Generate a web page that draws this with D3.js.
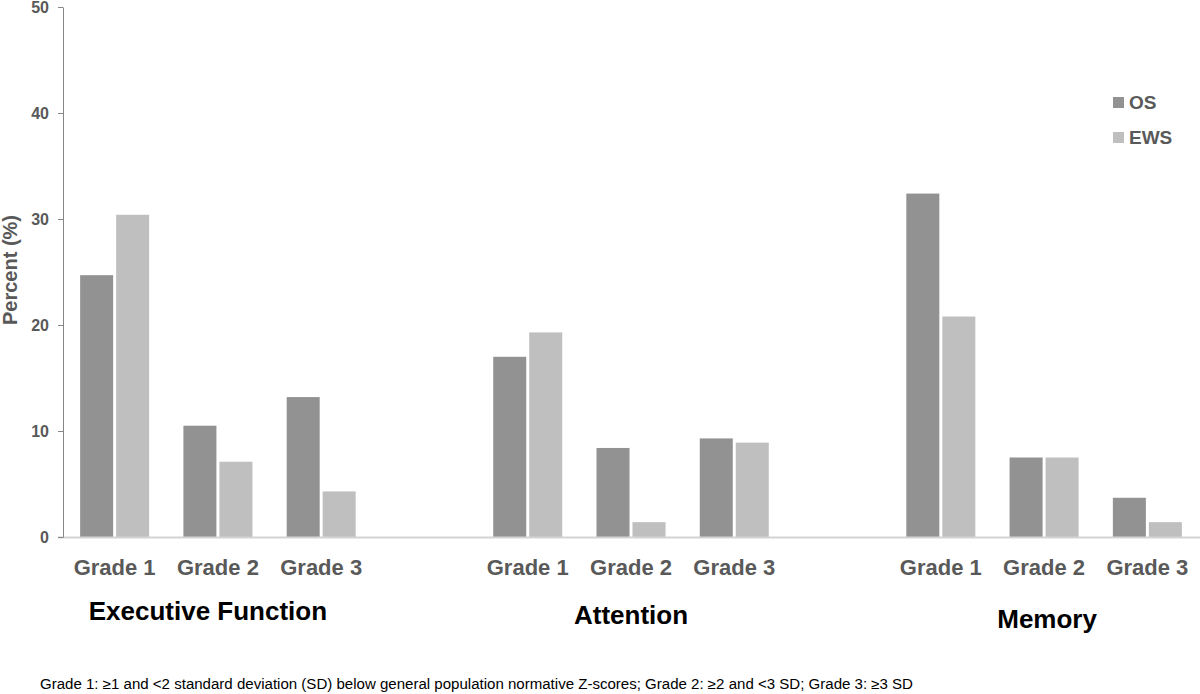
<!DOCTYPE html>
<html>
<head>
<meta charset="utf-8">
<script src="https://cdn.jsdelivr.net/npm/d3@7"></script>
<style>
  body { margin: 0; background: #fff; }
  svg { display: block; font-family: "Liberation Sans", Arial, sans-serif; }
</style>
</head>
<body>
<script>
// values
const domains = ["Executive Function", "Attention", "Memory"];
const grades = ["Grade 1", "Grade 2", "Grade 3"];
const seriesNames = ["OS", "EWS"];
const osValues  = [24.7, 10.5, 13.2, 17.0, 8.4, 9.3, 32.4, 7.5, 3.7];
const ewsValues = [30.4, 7.1, 4.3, 19.3, 1.4, 8.9, 20.8, 7.5, 1.4];
const yTicks = [0, 10, 20, 30, 40, 50];
const footnote = "Grade 1: \u22651 and <2 standard deviation (SD) below general population normative Z-scores; Grade 2: \u22652 and <3 SD; Grade 3: \u22653 SD";

const width = 1200, height = 694;
const plot = { left: 63, right: 1199, top: 7, bottom: 537 };
const colors = { OS: "#929292", EWS: "#bfbfbf" };
const textGray = "#595959";
// domain titles sit at slightly different heights in the original
const titleLayout = [{ dx: -10, y: 620 }, { dx: 0, y: 624 }, { dx: 3, y: 628 }];

// three grade slots per domain, one empty slot between domains
const slots = [];
domains.forEach((dom, di) => {
  grades.forEach(g => slots.push(dom + "|" + g));
  if (di < domains.length - 1) slots.push("gap" + di);
});

const rows = osValues.map((v, i) => ({
  slot: domains[Math.floor(i / 3)] + "|" + grades[i % 3],
  grade: grades[i % 3],
  OS: v,
  EWS: ewsValues[i]
}));

const svg = d3.select("body").append("svg")
    .attr("width", width)
    .attr("height", height);

const x = d3.scaleBand()
    .domain(slots)
    .range([plot.left, plot.right]);

const xs = d3.scaleBand()
    .domain(seriesNames)
    .range([0, x.bandwidth()])
    .paddingInner(0.083)
    .paddingOuter(0.476);

const y = d3.scaleLinear()
    .domain([0, 50])
    .range([plot.bottom, plot.top]);

// bars
let groups = svg.append("g").attr("id", "bars")
  .selectAll("g")
  .data(rows)
  .enter()
  .append("g")
    .attr("transform", d => `translate(${x(d.slot)},0)`);

groups.selectAll("rect")
  .data(d => seriesNames.map(s => ({ key: s, value: d[s] })))
  .enter()
  .append("rect")
    .attr("x", d => xs(d.key))
    .attr("y", d => y(d.value))
    .attr("width", xs.bandwidth())
    .attr("height", d => y(0) - y(d.value))
    .attr("fill", d => colors[d.key]);

// category baseline
svg.append("line")
    .attr("x1", plot.left - 5)
    .attr("x2", width)
    .attr("y1", y(0) + 0.5)
    .attr("y2", y(0) + 0.5)
    .attr("stroke", "#d3d3d3")
    .attr("stroke-width", 2);

// y axis
let yAxis = svg.append("g")
    .attr("transform", `translate(${plot.left},0)`)
    .call(d3.axisLeft(y).tickValues(yTicks).tickSize(5).tickSizeOuter(0).tickPadding(9));
yAxis.select(".domain").attr("stroke", "#868686");
yAxis.selectAll(".tick line").attr("stroke", "#868686");
yAxis.selectAll(".tick text")
    .attr("fill", textGray)
    .attr("font-size", 16)
    .attr("font-weight", "bold")
    .attr("font-family", "'Liberation Sans', Arial, sans-serif");

svg.append("text")
    .attr("transform", "translate(17,270) rotate(-90)")
    .attr("text-anchor", "middle")
    .attr("font-size", 20)
    .attr("font-weight", "bold")
    .attr("fill", textGray)
    .text("Percent (%)");

// grade labels
svg.append("g").selectAll("text")
  .data(rows)
  .enter()
  .append("text")
    .attr("x", d => x(d.slot) + x.bandwidth() / 2)
    .attr("y", 575)
    .attr("text-anchor", "middle")
    .attr("font-size", 22)
    .attr("font-weight", "bold")
    .attr("fill", textGray)
    .text(d => d.grade);

// domain titles, centred under the middle grade
svg.append("g").selectAll("text")
  .data(domains)
  .enter()
  .append("text")
    .attr("x", (d, i) => x(d + "|" + grades[1]) + x.bandwidth() / 2 + titleLayout[i].dx)
    .attr("y", (d, i) => titleLayout[i].y)
    .attr("text-anchor", "middle")
    .attr("font-size", 26)
    .attr("font-weight", "bold")
    .attr("fill", "#000")
    .text(d => d);

// legend
let legend = svg.append("g").attr("transform", "translate(1113,97)");
let item = legend.selectAll("g")
  .data(seriesNames)
  .enter()
  .append("g")
    .attr("transform", (d, i) => `translate(0,${i * 35})`);
item.append("rect")
    .attr("width", 11)
    .attr("height", 11)
    .attr("fill", d => colors[d]);
item.append("text")
    .attr("x", 16)
    .attr("y", 12)
    .attr("font-size", 19)
    .attr("font-weight", "bold")
    .attr("fill", textGray)
    .text(d => d);

// footnote
svg.append("text")
    .attr("x", 40)
    .attr("y", 689)
    .attr("font-size", 14)
    .attr("textLength", 873)
    .attr("lengthAdjust", "spacingAndGlyphs")
    .attr("fill", "#000")
    .text(footnote);
</script>
</body>
</html>
